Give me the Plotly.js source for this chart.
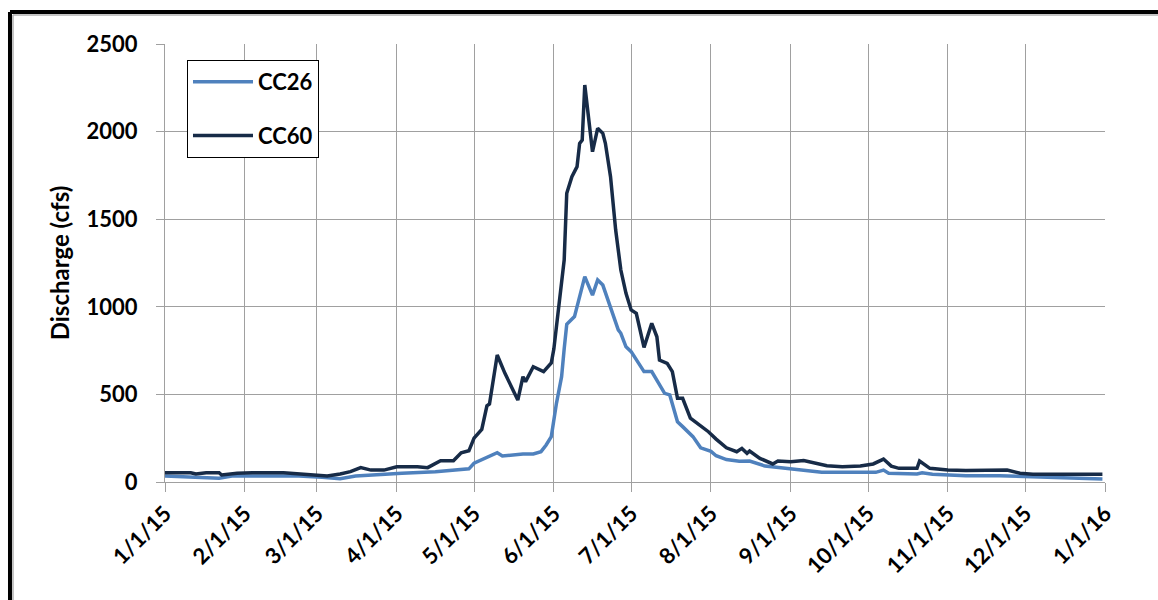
<!DOCTYPE html>
<html>
<head>
<meta charset="utf-8">
<script src="https://cdn.plot.ly/plotly-3.0.1.min.js"></script>
<style>
  html, body { margin: 0; padding: 0; background: #ffffff; }
  #chart { width: 1158px; height: 600px; }
</style>
</head>
<body>
<div id="chart"></div>
<script>
// CC26 daily discharge (cfs)
const cc26Dates = [
  "2015-01-01","2015-01-08","2015-01-22","2015-01-27","2015-02-09","2015-02-22",
  "2015-03-03","2015-03-10","2015-03-16","2015-03-27","2015-04-03","2015-04-16",
  "2015-04-26","2015-04-29","2015-05-01","2015-05-05","2015-05-08","2015-05-10",
  "2015-05-12","2015-05-16","2015-05-20","2015-05-24","2015-05-27","2015-05-29",
  "2015-05-31","2015-06-02","2015-06-04","2015-06-05","2015-06-06","2015-06-09",
  "2015-06-11","2015-06-13","2015-06-16","2015-06-18","2015-06-20","2015-06-24",
  "2015-06-26","2015-06-27","2015-06-29","2015-07-01","2015-07-03","2015-07-06",
  "2015-07-09","2015-07-14","2015-07-16","2015-07-19","2015-07-21","2015-07-25",
  "2015-07-28","2015-08-01","2015-08-03","2015-08-07","2015-08-12","2015-08-16",
  "2015-08-22","2015-08-29","2015-09-04","2015-09-13","2015-09-24","2015-10-04",
  "2015-10-07","2015-10-09","2015-10-20","2015-10-22","2015-10-26","2015-11-08",
  "2015-11-21","2015-12-01","2015-12-17","2015-12-31"
];
const cc26Values = [
  34, 30, 21, 34, 34, 34,
  27, 19, 34, 46, 50, 59,
  72, 75, 107, 135, 154, 167,
  148, 154, 160, 160, 173, 211,
  259, 449, 601, 760, 900, 944,
  1058, 1172, 1067, 1153, 1124, 963,
  868, 849, 772, 744, 700, 630,
  630, 506, 497, 344, 316, 259,
  195, 175, 150, 128, 118, 120,
  91, 78, 68, 55, 55, 55,
  68, 50, 46, 53, 44, 36,
  36, 30, 25, 17
];

// CC60 daily discharge (cfs)
const cc60Dates = [
  "2015-01-01","2015-01-11","2015-01-13","2015-01-17","2015-01-22","2015-01-23",
  "2015-01-29","2015-02-04","2015-02-16","2015-02-22","2015-03-01","2015-03-05",
  "2015-03-10","2015-03-14","2015-03-18","2015-03-22","2015-03-27","2015-04-01",
  "2015-04-09","2015-04-13","2015-04-18","2015-04-23","2015-04-26","2015-04-29",
  "2015-05-01","2015-05-04","2015-05-06","2015-05-07","2015-05-10","2015-05-13",
  "2015-05-18","2015-05-20","2015-05-21","2015-05-24","2015-05-28","2015-05-31",
  "2015-06-01","2015-06-02","2015-06-04","2015-06-05","2015-06-06","2015-06-08",
  "2015-06-10","2015-06-11","2015-06-12","2015-06-13","2015-06-16","2015-06-18",
  "2015-06-20","2015-06-21","2015-06-23","2015-06-25","2015-06-27","2015-06-29",
  "2015-07-01","2015-07-03","2015-07-06","2015-07-09","2015-07-11","2015-07-12",
  "2015-07-15","2015-07-17","2015-07-19","2015-07-21","2015-07-24","2015-07-28",
  "2015-07-31","2015-08-03","2015-08-07","2015-08-11","2015-08-13","2015-08-15",
  "2015-08-16","2015-08-20","2015-08-25","2015-08-27","2015-09-01","2015-09-06",
  "2015-09-10","2015-09-15","2015-09-21","2015-09-28","2015-10-03","2015-10-07",
  "2015-10-10","2015-10-13","2015-10-20","2015-10-21","2015-10-25","2015-11-01",
  "2015-11-08","2015-11-17","2015-11-24","2015-11-29","2015-12-04","2015-12-17",
  "2015-12-31"
];
const cc60Values = [
  53, 53, 46, 53, 53, 40,
  50, 53, 53, 46, 40, 34,
  46, 59, 82, 68, 68, 87,
  87, 82, 122, 122, 167, 178,
  250, 300, 435, 445, 725, 620,
  468, 601, 573, 658, 630, 680,
  760, 887, 1172, 1267, 1648, 1743,
  1800, 1933, 1952, 2266, 1885, 2019,
  1990, 1933, 1743, 1438, 1210, 1077,
  982, 963, 768, 906, 829, 696,
  677, 630, 478, 478, 364, 320,
  287, 245, 195, 173, 192, 164,
  177, 135, 103, 120, 116, 122,
  107, 93, 87, 91, 103, 131,
  91, 78, 78, 120, 78, 68,
  65, 65, 68, 50, 44, 44,
  44
];

// Axis ticks
const monthTickVals = [
  "2015-01-01","2015-02-01","2015-03-01","2015-04-01","2015-05-01","2015-06-01",
  "2015-07-01","2015-08-01","2015-09-01","2015-10-01","2015-11-01","2015-12-01","2016-01-01"
];
const monthTickText = [
  "1/1/15","2/1/15","3/1/15","4/1/15","5/1/15","6/1/15",
  "7/1/15","8/1/15","9/1/15","10/1/15","11/1/15","12/1/15","1/1/16"
];
const yTickVals = [0, 500, 1000, 1500, 2000, 2500];

const FONT = "Lato, 'Open Sans', sans-serif";

const traces = [
  {
    x: cc26Dates, y: cc26Values, name: "CC26", type: "scatter", mode: "lines",
    legendgroup: "a",
    line: { color: "#4F81BD", width: 3.5 }
  },
  {
    x: cc60Dates, y: cc60Values, name: "CC60", type: "scatter", mode: "lines",
    legendgroup: "b",
    line: { color: "#172B47", width: 3.5 }
  }
];

const layout = {
  width: 1158, height: 600,
  margin: { l: 165, r: 53, t: 44, b: 118, pad: 0 },
  paper_bgcolor: "#ffffff", plot_bgcolor: "#ffffff",
  font: { family: FONT, color: "#000000" },
  showlegend: true,
  legend: {
    x: 0.0234, y: 0.9635, xanchor: "left", yanchor: "top",
    bgcolor: "#ffffff", bordercolor: "#000000", borderwidth: 1,
    font: { family: FONT, size: 22, weight: "bold", color: "#000000" },
    tracegroupgap: 22, traceorder: "grouped",
    itemwidth: 60
  },
  xaxis: {
    type: "date",
    range: ["2015-01-01", "2016-01-01"],
    tickmode: "array", tickvals: monthTickVals, ticktext: monthTickText,
    tickangle: -45,
    tickfont: { family: FONT, size: 22, weight: "bold", color: "#000000" },
    ticks: "outside", ticklen: 9, tickcolor: "#A0A0A0", tickwidth: 1,
    showgrid: true, gridcolor: "#A0A0A0", gridwidth: 1,
    showline: true, linecolor: "#A0A0A0", linewidth: 1,
    zeroline: false, automargin: false, fixedrange: true
  },
  yaxis: {
    range: [0, 2500],
    tickmode: "array", tickvals: yTickVals,
    tickfont: { family: FONT, size: 22, weight: "bold", color: "#000000" },
    ticks: "outside", ticklen: 8, tickcolor: "#A0A0A0", tickwidth: 1,
    ticklabelstandoff: 14,
    showgrid: true, gridcolor: "#A0A0A0", gridwidth: 1,
    showline: true, linecolor: "#A0A0A0", linewidth: 1,
    zeroline: false, automargin: false, fixedrange: true,
    title: {
      text: "Discharge (cfs)",
      font: { family: FONT, size: 24, weight: "bold", color: "#000000" },
      standoff: 10
    }
  },
  shapes: [
    { type: "line", xref: "paper", yref: "paper",
      x0: -0.1649, x1: 1.2, y0: 1.0731, y1: 1.0731,
      line: { color: "#000000", width: 4 } },
    { type: "line", xref: "paper", yref: "paper",
      x0: -0.1649, x1: -0.1649, y0: 1.0731, y1: -0.5,
      line: { color: "#000000", width: 4 } },
    { type: "line", xref: "paper", yref: "paper",
      x0: -0.1617, x1: 1.2, y0: 1.0662, y1: 1.0662,
      line: { color: "#B0B0B0", width: 1.5 } },
    { type: "line", xref: "paper", yref: "paper",
      x0: -0.1617, x1: -0.1617, y0: 1.0662, y1: -0.5,
      line: { color: "#B0B0B0", width: 1.5 } }
  ]
};

Plotly.newPlot("chart", traces, layout, { displayModeBar: false, staticPlot: true });
</script>
</body>
</html>
